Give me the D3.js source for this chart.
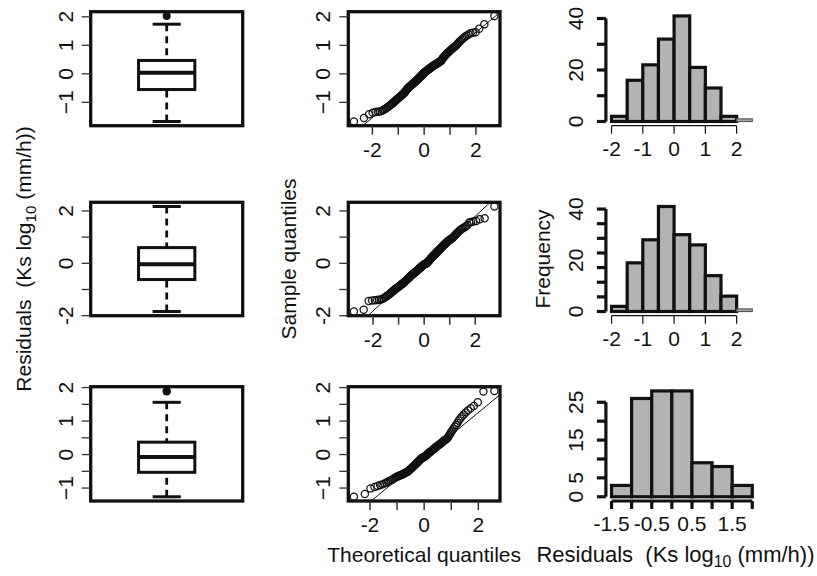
<!DOCTYPE html>
<html>
<head>
<meta charset="utf-8">
<script src="https://cdn.jsdelivr.net/npm/d3@7"></script>
<style>
  body { margin: 0; background: #fff; }
  text { font-family: "Liberation Sans", Arial, Helvetica, sans-serif; fill: #111; white-space: pre; }
</style>
</head>
<body>
<svg id="chart" width="817" height="576"></svg>
<script>
const resid1 = [-1.67,-1.55,
  -1.42,-1.36,-1.34,-1.33,-1.32,-1.30,-1.27,-1.24,-1.21,-1.18,-1.15,-1.12,-1.09,-1.06,-1.04,-1.02,
  -0.98,-0.95,-0.93,-0.91,-0.88,-0.86,-0.84,-0.82,-0.80,-0.78,-0.76,-0.74,-0.72,-0.70,-0.68,-0.66,-0.64,-0.61,-0.58,-0.55,-0.53,-0.51,
  -0.49,-0.47,-0.46,-0.44,-0.43,-0.41,-0.40,-0.38,-0.37,-0.35,-0.34,-0.32,-0.31,-0.29,-0.28,-0.26,-0.25,-0.23,-0.22,-0.20,-0.19,-0.17,-0.16,-0.14,-0.13,-0.11,-0.10,-0.08,-0.07,-0.05,-0.04,-0.02,
  0.01,0.02,0.03,0.04,0.06,0.07,0.08,0.09,0.10,0.11,0.13,0.14,0.15,0.16,0.17,0.18,0.20,0.21,0.22,0.23,0.24,0.25,0.27,0.28,0.29,0.30,0.31,0.32,0.33,0.34,0.35,0.36,0.37,0.38,0.40,0.41,0.42,0.43,0.44,0.45,0.47,
  0.52,0.54,0.57,0.59,0.61,0.64,0.66,0.68,0.71,0.73,0.75,0.77,0.80,0.82,0.84,0.87,0.89,0.91,0.94,0.96,0.98,
  1.02,1.06,1.10,1.14,1.18,1.22,1.26,1.30,1.34,1.38,1.42,1.44,1.46,
  1.58,1.74,
  2.03];

const resid2 = [-1.84,-1.77,
  -1.44,-1.42,-1.41,-1.40,-1.39,-1.38,-1.36,-1.33,-1.30,-1.27,-1.24,-1.21,-1.18,-1.15,-1.12,-1.09,-1.06,-1.04,-1.02,
  -0.98,-0.96,-0.95,-0.93,-0.91,-0.89,-0.88,-0.86,-0.84,-0.82,-0.81,-0.79,-0.77,-0.75,-0.74,-0.72,-0.70,-0.68,-0.67,-0.65,-0.63,-0.61,-0.60,-0.58,-0.56,-0.54,-0.53,-0.51,
  -0.49,-0.47,-0.46,-0.45,-0.43,-0.42,-0.41,-0.39,-0.38,-0.37,-0.35,-0.34,-0.33,-0.31,-0.30,-0.29,-0.27,-0.26,-0.25,-0.23,-0.22,-0.21,-0.19,-0.18,-0.17,-0.15,-0.14,-0.13,-0.11,-0.10,-0.09,-0.07,-0.06,-0.05,-0.04,-0.03,-0.03,-0.02,-0.02,-0.01,-0.01,
  0.01,0.03,0.04,0.06,0.08,0.09,0.11,0.13,0.14,0.16,0.18,0.19,0.21,0.23,0.24,0.26,0.28,0.29,0.31,0.33,0.34,0.36,0.38,0.39,0.41,0.43,0.44,0.46,0.48,0.49,
  0.51,0.53,0.55,0.57,0.59,0.61,0.62,0.64,0.66,0.68,0.70,0.72,0.74,0.76,0.78,0.80,0.82,0.84,0.86,0.88,0.89,0.91,0.93,0.95,0.97,0.99,
  1.02,1.05,1.09,1.12,1.16,1.19,1.23,1.26,1.29,1.32,1.35,1.38,1.42,1.46,
  1.56,1.58,1.60,1.62,1.68,1.72,
  2.17];

const resid3 = [-1.26,-1.18,-1.01,
  -0.97,-0.94,-0.91,-0.89,-0.86,-0.84,-0.81,-0.79,-0.77,-0.75,-0.72,-0.70,-0.68,-0.66,-0.65,-0.64,-0.62,-0.61,-0.60,-0.59,-0.57,-0.56,-0.55,-0.53,-0.52,-0.51,
  -0.49,-0.47,-0.45,-0.43,-0.41,-0.39,-0.37,-0.35,-0.33,-0.31,-0.29,-0.27,-0.25,-0.23,-0.21,-0.19,-0.17,-0.15,-0.13,-0.11,-0.10,-0.09,-0.08,-0.07,-0.05,-0.04,-0.03,-0.01,
  0.01,0.03,0.04,0.06,0.08,0.09,0.11,0.13,0.14,0.16,0.18,0.19,0.21,0.23,0.24,0.26,0.28,0.29,0.31,0.33,0.35,0.37,0.39,0.41,0.43,0.45,0.47,0.49,
  0.53,0.58,0.63,0.68,0.73,0.78,0.83,0.88,0.94,
  1.02,1.08,1.14,1.20,1.26,1.32,1.38,1.45,
  1.56,1.88,1.90];

const residuals = [resid1, resid2, resid3];

// axis ticks and labels
const resTicks = [[-1, 0, 1, 2], [-2, -1, 0, 1, 2], [-1, -0.5, 0, 0.5, 1, 1.5, 2]];
const resLabels = [["−1", "0", "1", "2"], ["-2", "", "0", "", "2"], ["−1", "", "0", "", "1", "", "2"]];
const qqXTicks = [-2, -1, 0, 1, 2];
const qqXLabels = ["-2", "", "0", "", "2"];

const histBreaks = [
  [-2, -1.5, -1, -0.5, 0, 0.5, 1, 1.5, 2, 2.5],
  [-2, -1.5, -1, -0.5, 0, 0.5, 1, 1.5, 2, 2.5],
  [-1.5, -1, -0.5, 0, 0.5, 1, 1.5, 2]
];
const histXTicks = [[-2, -1, 0, 1, 2], [-2, -1, 0, 1, 2], [-1.5, -1, -0.5, 0, 0.5, 1, 1.5, 2]];
const histXLabels = [["-2", "-1", "0", "1", "2"], ["-2", "-1", "0", "1", "2"], ["-1.5", "", "-0.5", "", "0.5", "", "1.5", ""]];
const histYTicks = [[0, 10, 20, 30, 40], d3.range(8).map(i => i * 40 / 7), [0, 5, 10, 15, 20, 25]];
const histYLabelAt = [[0, 20, 40], [0, 20, 40], [0, 5, 15, 25]];

// layout (R-like plot regions)
const rowTop = [11.7, 202.3, 386.7];
const rowBot = [125.7, 315.7, 501];
const boxL = 90.7, boxR = 242.7;
const qqL = 348.3, qqR = 500;
const histL = 605.9, histR = 757.9;
const fs = 21;

const svg = d3.select("#chart");

function pad(lo, hi) {
  const d = (hi - lo) * 0.04;
  return [lo - d, hi + d];
}

// Acklam's inverse normal cdf
function qnorm(p) {
  const a = [-3.969683028665376e+01, 2.209460984245205e+02, -2.759285104469687e+02, 1.383577518672690e+02, -3.066479806614716e+01, 2.506628277459239e+00];
  const b = [-5.447609879822406e+01, 1.615858368580409e+02, -1.556989798598866e+02, 6.680131188771972e+01, -1.328068155288572e+01];
  const c = [-7.784894002430293e-03, -3.223964580411365e-01, -2.400758277161838e+00, -2.549732539343734e+00, 4.374664141464968e+00, 2.938163982698783e+00];
  const d = [7.784695709041462e-03, 3.224671290700398e-01, 2.445134137142996e+00, 3.754408661907416e+00];
  const lo = 0.02425;
  if (p < lo || p > 1 - lo) {
    const q = Math.sqrt(-2 * Math.log(p < lo ? p : 1 - p));
    const v = (((((c[0] * q + c[1]) * q + c[2]) * q + c[3]) * q + c[4]) * q + c[5]) /
      ((((d[0] * q + d[1]) * q + d[2]) * q + d[3]) * q + 1);
    return p < lo ? v : -v;
  }
  const q = p - 0.5, r = q * q;
  return (((((a[0] * r + a[1]) * r + a[2]) * r + a[3]) * r + a[4]) * r + a[5]) * q /
    (((((b[0] * r + b[1]) * r + b[2]) * r + b[3]) * r + b[4]) * r + 1);
}

function fivenum(s) {
  const n = s.length;
  const n4 = Math.floor((n + 3) / 2) / 2;
  return [1, n4, (n + 1) / 2, n + 1 - n4, n].map(d => 0.5 * (s[Math.floor(d) - 1] + s[Math.ceil(d) - 1]));
}

function vText(x, y, str, size) {
  return svg.append("text")
    .attr("transform", `translate(${x},${y}) rotate(-90)`)
    .attr("text-anchor", "middle")
    .attr("font-size", size)
    .text(str);
}

function leftTicks(y, x0, ticks, labels) {
  ticks.forEach((t, i) => {
    svg.append("line").attr("x1", x0).attr("x2", x0 - 9).attr("y1", y(t)).attr("y2", y(t))
      .attr("stroke", "#333").attr("stroke-width", 1.3);
    if (labels[i]) vText(x0 - 18, y(t), labels[i], fs);
  });
}

residuals.forEach((data, r) => {
  const top = rowTop[r], bot = rowBot[r];
  const s = data.slice().sort(d3.ascending);
  const n = s.length;
  const y = d3.scaleLinear().domain(pad(s[0], s[n - 1])).range([bot, top]);

  // ---- boxplot ----
  const bx = d3.scaleLinear().domain([0.46, 1.54]).range([boxL, boxR]);
  const f = fivenum(s);
  const iqr = f[3] - f[1];
  const hiF = f[3] + 1.5 * iqr, loF = f[1] - 1.5 * iqr;
  const wHi = d3.max(s.filter(v => v <= hiF));
  const wLo = d3.min(s.filter(v => v >= loF));
  const outl = s.filter(v => v > hiF || v < loF);

  [[wHi, f[3]], [wLo, f[1]]].forEach(([w, h]) => {
    svg.append("line").attr("x1", bx(1)).attr("x2", bx(1)).attr("y1", y(w)).attr("y2", y(h))
      .attr("stroke", "#111").attr("stroke-width", 2.8).attr("stroke-dasharray", "7,5");
    svg.append("line").attr("x1", bx(0.9)).attr("x2", bx(1.1)).attr("y1", y(w)).attr("y2", y(w))
      .attr("stroke", "#111").attr("stroke-width", 3);
  });
  svg.append("rect").attr("x", bx(0.8)).attr("width", bx(1.2) - bx(0.8))
    .attr("y", y(f[3])).attr("height", y(f[1]) - y(f[3]))
    .attr("fill", "#fff").attr("stroke", "#111").attr("stroke-width", 3);
  svg.append("line").attr("x1", bx(0.8)).attr("x2", bx(1.2)).attr("y1", y(f[2])).attr("y2", y(f[2]))
    .attr("stroke", "#111").attr("stroke-width", 4);
  svg.selectAll(null).data(outl).join("circle")
    .attr("cx", bx(1)).attr("cy", d => y(d)).attr("r", 4).attr("fill", "#111");
  svg.append("rect").attr("x", boxL).attr("y", top).attr("width", boxR - boxL).attr("height", bot - top)
    .attr("fill", "none").attr("stroke", "#111").attr("stroke-width", 3.3);
  leftTicks(y, boxL, resTicks[r], resLabels[r]);

  // ---- normal qq plot ----
  const a = n <= 10 ? 3 / 8 : 0.5;
  const tq = s.map((_, i) => qnorm((i + 1 - a) / (n + 1 - 2 * a)));
  const qx = d3.scaleLinear().domain(pad(tq[0], tq[n - 1])).range([qqL, qqR]);
  const clipId = "clip" + r;
  svg.append("clipPath").attr("id", clipId).append("rect")
    .attr("x", qqL).attr("y", top).attr("width", qqR - qqL).attr("height", bot - top);
  const q1 = d3.quantileSorted(s, 0.25), q3 = d3.quantileSorted(s, 0.75);
  const slope = (q3 - q1) / (qnorm(0.75) - qnorm(0.25));
  const icpt = q1 - slope * qnorm(0.25);
  const xd = qx.domain();
  svg.append("line").attr("clip-path", `url(#${clipId})`)
    .attr("x1", qx(xd[0])).attr("x2", qx(xd[1]))
    .attr("y1", y(icpt + slope * xd[0])).attr("y2", y(icpt + slope * xd[1]))
    .attr("stroke", "#111").attr("stroke-width", 1);
  svg.selectAll(null).data(s).join("circle")
    .attr("cx", (d, i) => qx(tq[i])).attr("cy", d => y(d)).attr("r", 3.6)
    .attr("fill", "none").attr("stroke", "#111").attr("stroke-width", 1.25);
  svg.append("rect").attr("x", qqL).attr("y", top).attr("width", qqR - qqL).attr("height", bot - top)
    .attr("fill", "none").attr("stroke", "#111").attr("stroke-width", 3.3);
  leftTicks(y, qqL, resTicks[r], resLabels[r]);
  qqXTicks.forEach((t, i) => {
    svg.append("line").attr("x1", qx(t)).attr("x2", qx(t)).attr("y1", bot).attr("y2", bot + 9)
      .attr("stroke", "#333").attr("stroke-width", 1.5);
    if (qqXLabels[i]) svg.append("text").attr("x", qx(t)).attr("y", bot + 31)
      .attr("text-anchor", "middle").attr("font-size", fs).text(qqXLabels[i]);
  });

  // ---- histogram ----
  const br = histBreaks[r];
  const bins = d3.range(br.length - 1).map(i => ({
    x0: br[i], x1: br[i + 1],
    count: s.filter(v => (i === 0 ? v >= br[i] : v > br[i]) && v <= br[i + 1]).length
  }));
  const hx = d3.scaleLinear().domain(pad(br[0], br[br.length - 1])).range([histL, histR]);
  const hy = d3.scaleLinear().domain(pad(0, d3.max(bins, b => b.count))).range([bot, top]);
  const xt = histXTicks[r];
  const axisEnd = xt[xt.length - 1];
  svg.selectAll(null).data(bins).join("rect")
    .attr("x", b => hx(b.x0)).attr("width", b => hx(b.x1) - hx(b.x0))
    .attr("y", b => hy(b.count)).attr("height", b => hy(0) - hy(b.count))
    .attr("fill", "#b3b3b3")
    .attr("stroke", b => b.x0 >= axisEnd ? "#555" : "#111")
    .attr("stroke-width", b => b.x0 >= axisEnd ? 1.2 : 3.2);

  const yt = histYTicks[r];
  svg.append("line").attr("x1", histL).attr("x2", histL).attr("y1", hy(yt[0])).attr("y2", hy(yt[yt.length - 1]))
    .attr("stroke", "#111").attr("stroke-width", 3.2);
  yt.forEach(t => {
    svg.append("line").attr("x1", histL).attr("x2", histL - 9).attr("y1", hy(t)).attr("y2", hy(t))
      .attr("stroke", "#111").attr("stroke-width", 3.2);
  });
  histYLabelAt[r].forEach(t => vText(histL - 23, hy(t), String(t), fs));

  const thick = r === 2;
  svg.append("line").attr("x1", hx(xt[0])).attr("x2", hx(axisEnd)).attr("y1", bot).attr("y2", bot)
    .attr("stroke", "#111").attr("stroke-width", thick ? 3.2 : 1.2);
  xt.forEach((t, i) => {
    svg.append("line").attr("x1", hx(t)).attr("x2", hx(t)).attr("y1", bot).attr("y2", bot + 8)
      .attr("stroke", "#111").attr("stroke-width", thick ? 3.2 : 1.2);
    if (histXLabels[r][i]) svg.append("text").attr("x", hx(t)).attr("y", bot + 30)
      .attr("text-anchor", "middle").attr("font-size", fs).text(histXLabels[r][i]);
  });
});

// ---- axis titles ----
function residTitle(sel, size) {
  sel.append("tspan").text("Residuals  (Ks log");
  sel.append("tspan").attr("font-size", size * 0.72).attr("dy", 5).text("10");
  sel.append("tspan").attr("dy", -5).text(" (mm/h))");
}
const midY = (rowTop[1] + rowBot[1]) / 2;
residTitle(svg.append("text")
  .attr("transform", `translate(31,${midY}) rotate(-90)`)
  .attr("text-anchor", "middle").attr("font-size", fs), fs);
vText(296, midY, "Sample quantiles", fs);
vText(550, midY, "Frequency", fs);
svg.append("text").attr("x", (qqL + qqR) / 2).attr("y", 562)
  .attr("text-anchor", "middle").attr("font-size", fs).text("Theoretical quantiles");
residTitle(svg.append("text").attr("x", 675.5).attr("y", 562)
  .attr("text-anchor", "middle").attr("font-size", 22), 22);
</script>
</body>
</html>
